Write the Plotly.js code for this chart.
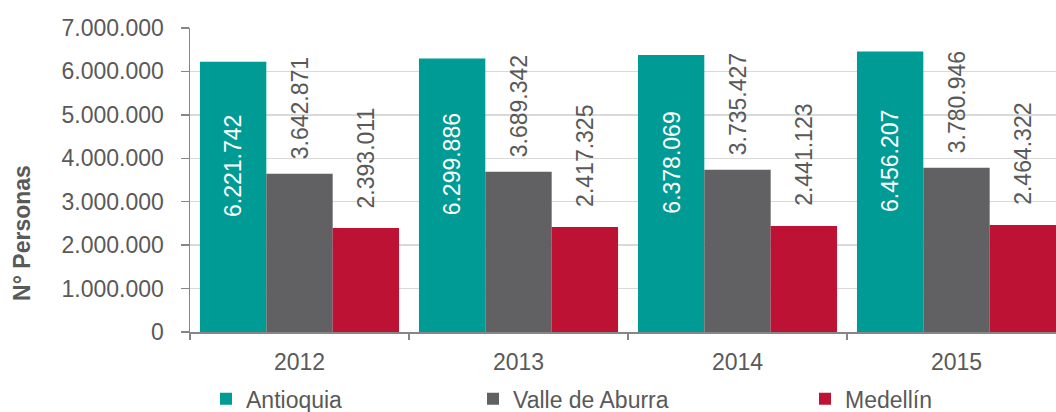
<!DOCTYPE html>
<html>
<head>
<meta charset="utf-8">
<script src="https://cdn.plot.ly/plotly-3.0.1.min.js"></script>
<style>
  html, body { margin: 0; padding: 0; background: #ffffff; overflow: hidden; }
  #chart { width: 1056px; height: 412px; }
</style>
</head>
<body>
<div id="chart"></div>
<script>
// ---- data ----
const years = ['2012', '2013', '2014', '2015'];
const antioquia = [6221742, 6299886, 6378069, 6456207];
const valleDeAburra = [3642871, 3689342, 3735427, 3780946];
const medellin = [2393011, 2417325, 2441123, 2464322];
const seriesNames = ['Antioquia', 'Valle de Aburra', 'Medellín'];
const yTickValues = [0, 1000000, 2000000, 3000000, 4000000, 5000000, 6000000, 7000000];
const yAxisTitle = 'N° Personas';

// ---- styles ----
const colors = ['#009B95', '#616163', '#BE1235'];
const FONT = 'Liberation Sans, Arial, sans-serif';
const TXT = '#595959';
const FS = 23;
const bargap = 0.091;

function fmt(v) {
  return String(v).replace(/\B(?=(\d{3})+(?!\d))/g, '.');
}

const seriesValues = [antioquia, valleDeAburra, medellin];
const legendIds = ['legend', 'legend2', 'legend3'];

const traces = seriesValues.map((vals, s) => ({
  type: 'bar',
  name: seriesNames[s],
  x: years,
  y: vals,
  marker: { color: colors[s], line: { width: 0 } },
  legend: legendIds[s],
  hoverinfo: 'skip'
}));

// data labels as annotations, positioned through the axes' scales
const barW = (1 - bargap) / 3;
const annotations = [];
seriesValues.forEach((vals, s) => {
  vals.forEach((v, i) => {
    const xpos = i + (s - 1) * barW;
    if (s === 0) {
      annotations.push({
        x: xpos, y: v / 2, xref: 'x', yref: 'y',
        text: fmt(v), textangle: -90, showarrow: false,
        xanchor: 'center', yanchor: 'middle', yshift: 31,
        font: { family: FONT, size: FS, color: '#ffffff' }
      });
    } else {
      annotations.push({
        x: xpos, y: v, xref: 'x', yref: 'y',
        text: fmt(v), textangle: -90, showarrow: false,
        xanchor: 'center', yanchor: 'bottom', yshift: s === 1 ? 12 : 18,
        font: { family: FONT, size: FS, color: TXT }
      });
    }
  });
});

// y axis title
annotations.push({
  xref: 'paper', yref: 'paper', x: 0, y: 0.326,
  xanchor: 'center', yanchor: 'middle', xshift: -168,
  text: '<b>' + yAxisTitle + '</b>', textangle: -90, showarrow: false,
  font: { family: FONT, size: 23, color: TXT }
});

const plotLeft = 190, plotW = 1056 - 190;
function px(p) { return (p - plotLeft) / plotW; }

const legendBase = {
  orientation: 'h', xanchor: 'left', yanchor: 'middle', y: -0.22,
  bgcolor: 'rgba(0,0,0,0)', borderwidth: 0, itemwidth: 30,
  font: { family: FONT, size: FS, color: TXT }
};

const layout = {
  width: 1056,
  height: 412,
  margin: { l: 190, r: 0, t: 28, b: 80, autoexpand: false },
  paper_bgcolor: '#ffffff',
  plot_bgcolor: '#ffffff',
  separators: ',.',
  barmode: 'group',
  bargap: bargap,
  bargroupgap: 0,
  showlegend: true,
  font: { family: FONT, size: FS, color: TXT },
  xaxis: {
    type: 'category',
    range: [-0.5, 3.5 - 10 / 219],
    showline: true, linecolor: '#868686', linewidth: 1.5,
    ticks: 'outside', tickson: 'boundaries', ticklen: 6, tickcolor: '#868686', tickwidth: 1.5,
    showgrid: false, zeroline: false,
    tickfont: { family: FONT, size: FS, color: TXT },
    ticklabelstandoff: 9
  },
  yaxis: {
    range: [0, 7000000],
    tickvals: yTickValues,
    tickformat: ',d',
    showline: true, linecolor: '#868686', linewidth: 1.5,
    ticks: 'outside', ticklen: 8, tickcolor: '#868686', tickwidth: 1.5,
    showgrid: true, gridcolor: '#D9D9D9', gridwidth: 1.5,
    zeroline: false,
    tickfont: { family: FONT, size: FS, color: TXT },
    ticklabelstandoff: 12
  },
  legend: Object.assign({}, legendBase, { x: px(226 - 20) }),
  legend2: Object.assign({}, legendBase, { x: px(493 - 20) }),
  legend3: Object.assign({}, legendBase, { x: px(825 - 20) }),
  annotations: annotations
};

Plotly.newPlot('chart', traces, layout, { displayModeBar: false, staticPlot: true });
</script>
</body>
</html>
